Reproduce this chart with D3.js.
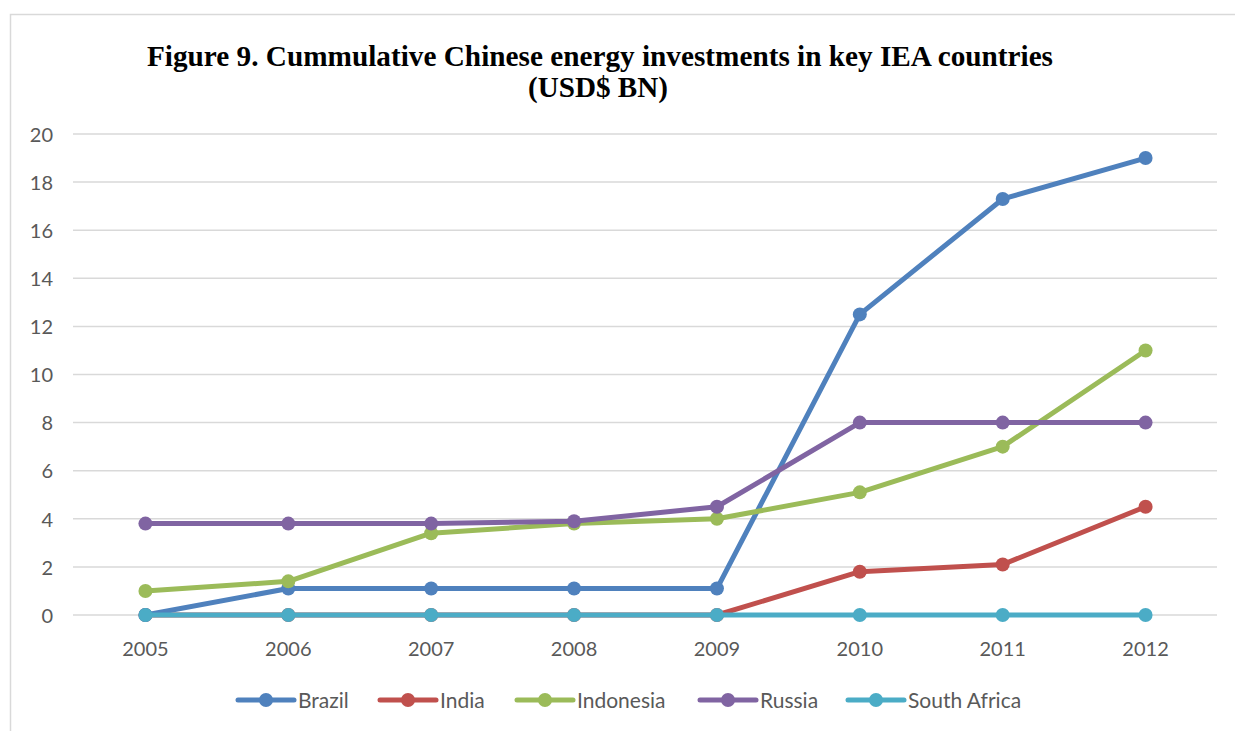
<!DOCTYPE html>
<html><head><meta charset="utf-8">
<script src="https://cdn.jsdelivr.net/npm/d3@7"></script>
<style>body{margin:0;background:#fff;} svg{display:block;}</style>
</head><body>
<svg id="c" width="1235" height="731"></svg>
<script>
const years = ["2005","2006","2007","2008","2009","2010","2011","2012"];
const seriesNames = ["Brazil","India","Indonesia","Russia","South Africa"];
const brazil     = [0, 1.1, 1.1, 1.1, 1.1, 12.5, 17.3, 19];
const india      = [0, 0, 0, 0, 0, 1.8, 2.1, 4.5];
const indonesia  = [1.0, 1.4, 3.4, 3.8, 4.0, 5.1, 7.0, 11];
const russia     = [3.8, 3.8, 3.8, 3.9, 4.5, 8, 8, 8];
const southAfrica= [0, 0, 0, 0, 0, 0, 0, 0];
const yTicks = [0,2,4,6,8,10,12,14,16,18,20];
const colors = ["#4F81BD","#C0504D","#9BBB59","#8064A2","#4BACC6"];
const titleLines = ["Figure 9. Cummulative Chinese energy investments in key IEA countries","(USD$ BN)"];

const data = [brazil, india, indonesia, russia, southAfrica];
const svg = d3.select("#c");
const labelFont = "Lato, 'Open Sans', sans-serif";

// outer frame
svg.append("rect").attr("x",10.5).attr("y",14.5).attr("width",1240).attr("height",730)
  .attr("fill","none").attr("stroke","#d9d9d9").attr("stroke-width",1.5);

const x = d3.scaleBand().domain(years).range([74,1217]);
const y = d3.scaleLinear().domain([0,20]).range([615,134]);

// gridlines
svg.append("g").selectAll("line").data(yTicks).join("line")
  .attr("x1",73).attr("x2",1217).attr("y1",d=>y(d)).attr("y2",d=>y(d))
  .attr("stroke","#d9d9d9").attr("stroke-width",1.5);

// y axis
const yAxis = svg.append("g").attr("transform","translate(53,0)")
  .call(d3.axisLeft(y).tickValues(yTicks).tickSize(0).tickPadding(0));
yAxis.select(".domain").remove();
yAxis.selectAll("text").attr("font-family",labelFont).attr("font-size",20).attr("fill","#595959").attr("dy","0.36em").attr("x",0);

// x axis
const xAxis = svg.append("g").attr("transform","translate(0,615)")
  .call(d3.axisBottom(x).tickSize(0).tickPadding(0));
xAxis.select(".domain").remove();
xAxis.selectAll("text").attr("font-family",labelFont).attr("font-size",20).attr("fill","#595959").attr("dy","0").attr("y",41);

const cx = d => x(d) + x.bandwidth()/2;
const line = d3.line().x((d,i)=>cx(years[i])).y(d=>y(d));

// draw order: India first so South Africa covers zeros
const order = [1,0,2,3,4];
order.forEach(k=>{
  const g = svg.append("g");
  g.append("path").datum(data[k]).attr("d",line).attr("fill","none")
    .attr("stroke",colors[k]).attr("stroke-width",5).attr("stroke-linejoin","round");
  g.selectAll("circle").data(data[k]).join("circle")
    .attr("cx",(d,i)=>cx(years[i])).attr("cy",d=>y(d)).attr("r",7).attr("fill",colors[k]);
});

// title
svg.append("text").attr("x",600).attr("y",66).attr("text-anchor","middle")
  .attr("font-family","'Liberation Serif','Times New Roman',serif").attr("font-weight","bold")
  .attr("font-size",30).attr("fill","#000").attr("textLength",906).attr("lengthAdjust","spacingAndGlyphs")
  .text(titleLines[0]);
svg.append("text").attr("x",598).attr("y",97).attr("text-anchor","middle")
  .attr("font-family","'Liberation Serif','Times New Roman',serif").attr("font-weight","bold")
  .attr("font-size",30).attr("fill","#000").attr("textLength",140).attr("lengthAdjust","spacingAndGlyphs")
  .text(titleLines[1]);

// legend
const legX = [238,380,517,700,848];
const lg = svg.append("g");
seriesNames.forEach((n,k)=>{
  const g = lg.append("g").attr("transform",`translate(${legX[k]},700)`);
  g.append("line").attr("x1",0).attr("x2",56).attr("y1",0).attr("y2",0)
    .attr("stroke",colors[k]).attr("stroke-width",5).attr("stroke-linecap","round");
  g.append("circle").attr("cx",28).attr("cy",0).attr("r",7).attr("fill",colors[k]);
  g.append("text").attr("x",60).attr("y",0).attr("dy","0.36em")
    .attr("font-family",labelFont).attr("font-size",21).attr("fill","#595959").text(n);
});
</script>
</body></html>
